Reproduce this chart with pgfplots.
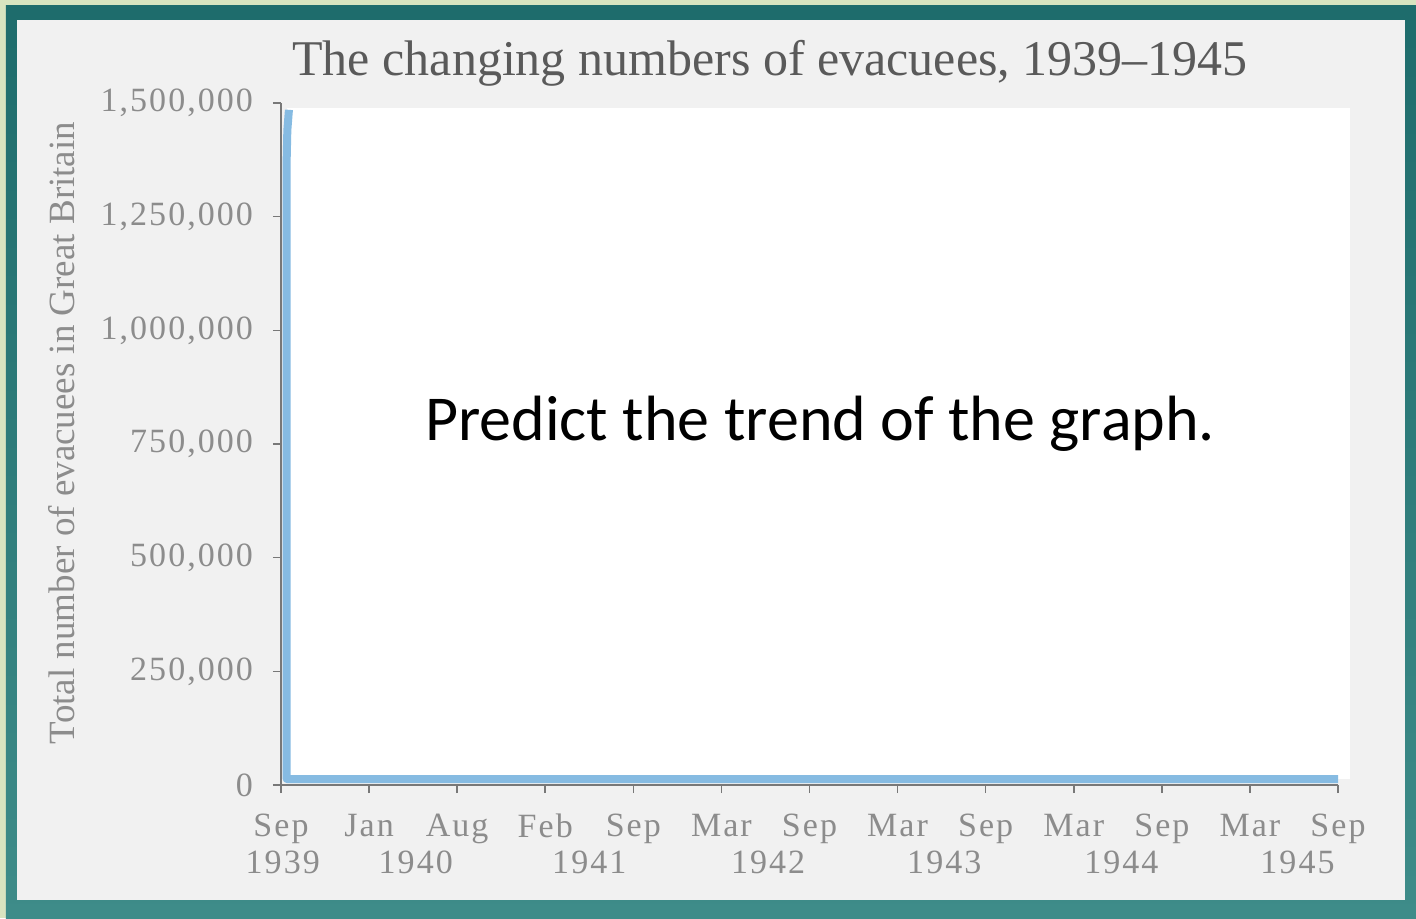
\documentclass[border=0pt]{standalone}
\usepackage{pgfplots}
\pgfplotsset{compat=1.18}
\usepackage{fontspec}
\setmainfont{Liberation Serif}
\newfontfamily\tickfont[LetterSpace=6]{Liberation Serif}
\newfontfamily\carlito{Carlito}
\definecolor{outergreen}{RGB}{216,228,192}
\definecolor{tealtop}{RGB}{30,108,108}
\definecolor{tealbot}{RGB}{62,140,137}
\definecolor{panel}{RGB}{241,241,241}
\definecolor{ticktext}{RGB}{140,140,140}
\definecolor{titletext}{RGB}{90,90,90}
\definecolor{evblue}{RGB}{134,187,226}
\definecolor{axisgrey}{RGB}{120,120,120}
\begin{document}
\begin{tikzpicture}
\useasboundingbox (-140.5pt,-66.5pt) rectangle (567.5pt,392.5pt);
\fill[outergreen] (-140.5pt,-66.5pt) rectangle (567.5pt,392.5pt);
\shade[top color=tealtop, bottom color=tealbot] (-137.5pt,-66.5pt) rectangle (567.5pt,390pt);
\fill[panel] (-132pt,-57.5pt) rectangle (562pt,382.5pt);
\begin{axis}[
 scale only axis, width=528.5pt, height=341pt,
 xmin=0, xmax=12, ymin=0, ymax=1500000,
 axis x line*=bottom, axis y line*=left,
 axis line style={axisgrey, line width=0.8pt, -},
 tick align=outside, major tick length=4pt,
 tick style={axisgrey, line width=0.8pt},
 xtick={0,1,2,3,4,5,6,7,8,9,10,11,12},
 xticklabels={Sep,Jan,Aug,Feb,Sep,Mar,Sep,Mar,Sep,Mar,Sep,Mar,Sep},
 ytick={0,250000,500000,750000,1000000,1250000,1500000},
 yticklabels={0,{250,000},{500,000},{750,000},{1,000,000},{1,250,000},{1,500,000}},
 ticklabel style={font=\tickfont\fontsize{17}{20}\selectfont, text=ticktext},
 xticklabel style={yshift=-7pt},
 yticklabel style={xshift=-6.5pt},
 extra x ticks={0.02,1.53,3.5,5.53,7.53,9.54,11.54},
 extra x tick labels={1939,1940,1941,1942,1943,1944,1945},
 extra x tick style={major tick length=0pt, xticklabel style={yshift=-22.5pt}},
 scaled ticks=false,
 clip=false,
]
\fill[white] (axis cs:0.07,13200) rectangle (axis cs:12.14,1489000);
\addplot[evblue, line width=4pt, line join=round] coordinates {(0.09,1485000) (0.072,1440000) (0.065,1380000) (0.065,13200) (12,13200)};
\node[font=\carlito\fontsize{32}{38}\selectfont, anchor=base] at (axis cs:6.12,758800) {Predict the trend of the graph.};
\end{axis}
\node[anchor=base, font=\fontsize{25}{30}\selectfont, text=titletext] at (244.5pt,355pt) {The changing numbers of evacuees, 1939--1945};
\node[rotate=90, font=\fontsize{18.5}{22}\selectfont, text=ticktext] at (-109.5pt,176pt) {Total number of evacuees in Great Britain};
\end{tikzpicture}
\end{document}
